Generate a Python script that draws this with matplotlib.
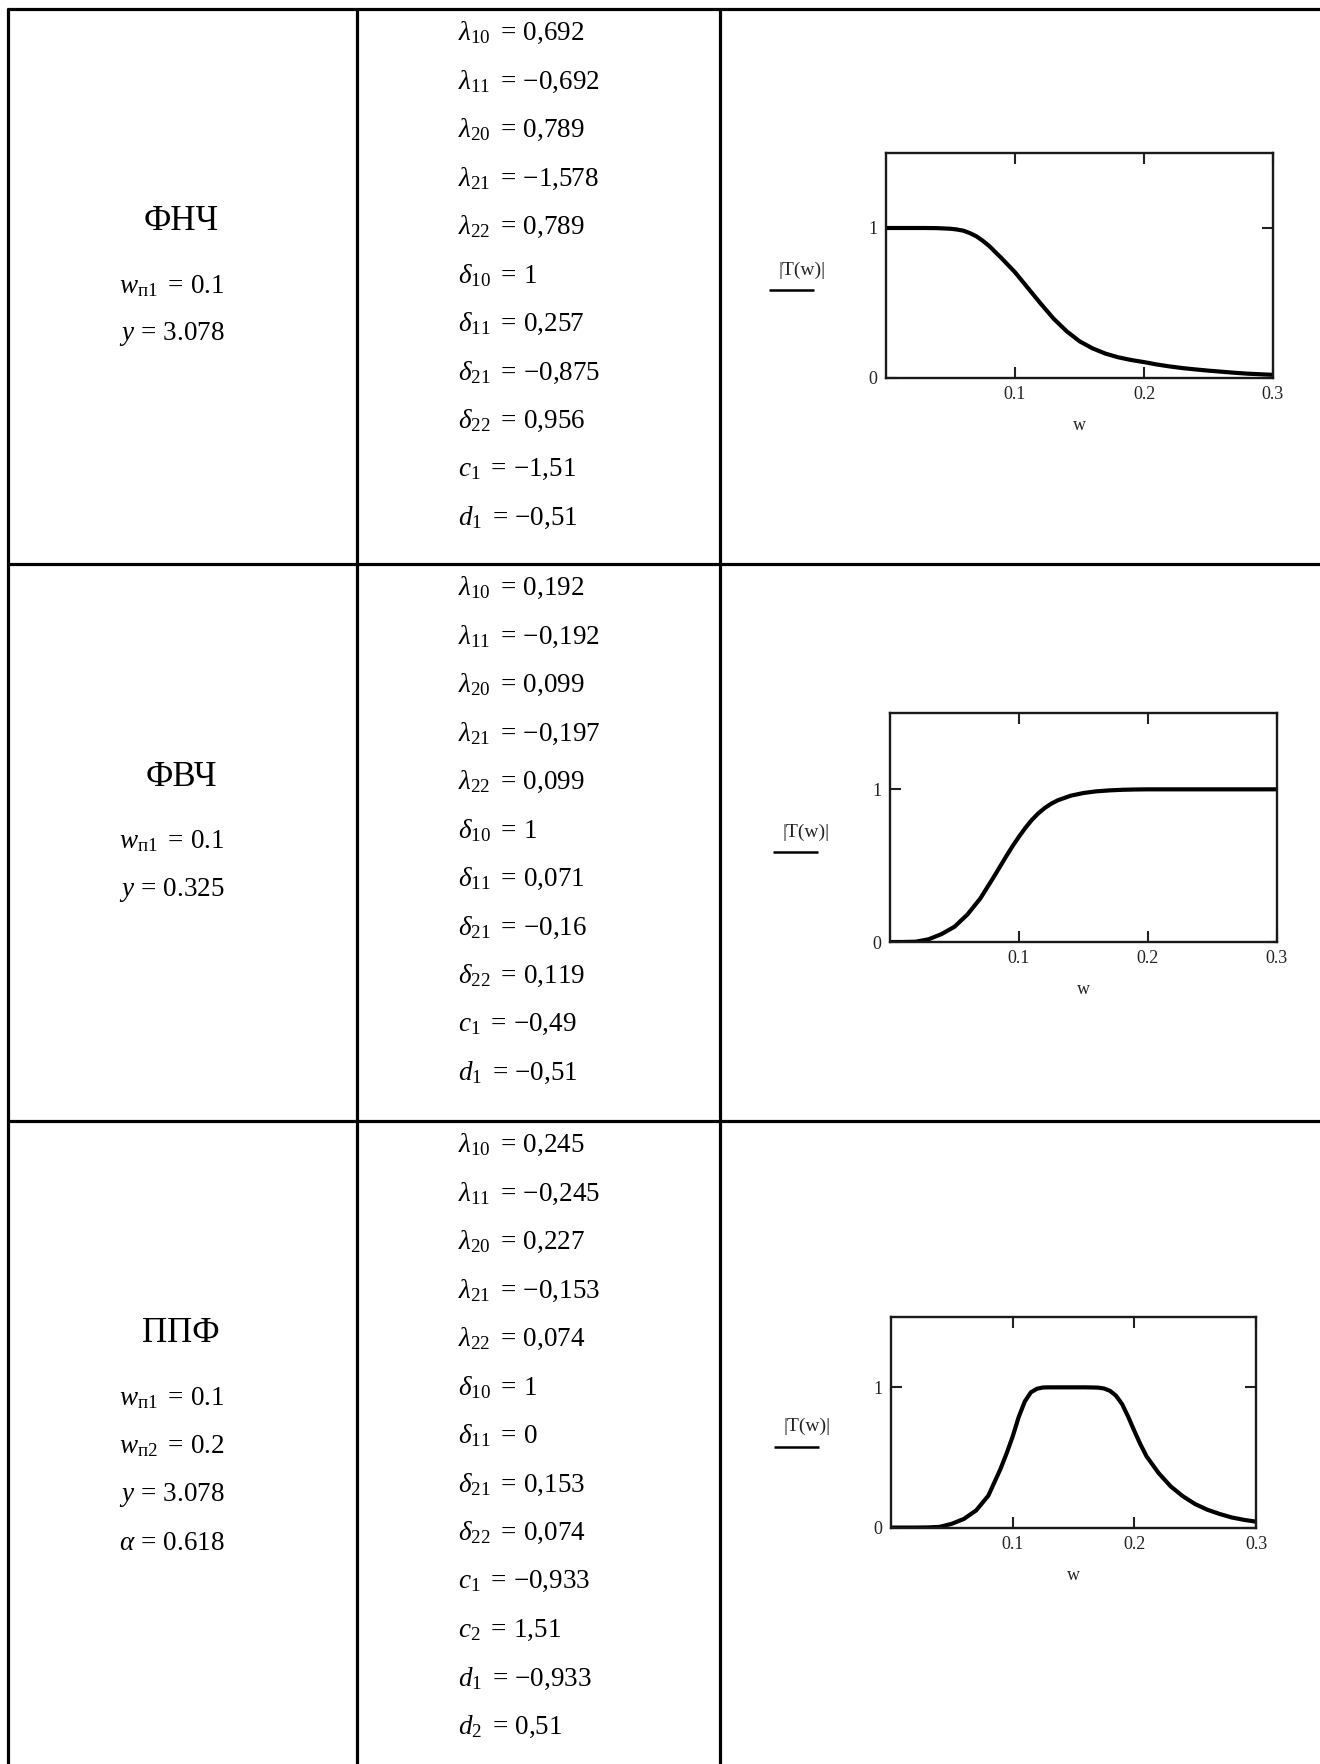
import matplotlib
matplotlib.use('Agg')
import matplotlib.pyplot as plt
from matplotlib.lines import Line2D

plt.rcParams['font.family'] = ['Liberation Serif', 'DejaVu Serif']
plt.rcParams['mathtext.fontset'] = 'custom'
plt.rcParams['mathtext.rm'] = 'Liberation Serif'
plt.rcParams['mathtext.it'] = 'Liberation Serif:italic'
plt.rcParams['mathtext.bf'] = 'Liberation Serif:bold'

W, H = 1320, 1764

# column 1: filter type and its parameters
filter_names = ['ФНЧ', 'ФВЧ', 'ППФ']
filter_params = [
    [r'$w_{\mathrm{п1}}\ =\, 0.1$', r'$y\,=\,3.078$'],
    [r'$w_{\mathrm{п1}}\ =\, 0.1$', r'$y\,=\,0.325$'],
    [r'$w_{\mathrm{п1}}\ =\, 0.1$', r'$w_{\mathrm{п2}}\ =\, 0.2$',
     r'$y\,=\,3.078$', r'$\alpha\,=\,0.618$'],
]

# column 2: coefficients
coeffs = [
    [r'$\lambda_{10}\ =\, 0{,}692$', r'$\lambda_{11}\ =\, {-}0{,}692$',
     r'$\lambda_{20}\ =\, 0{,}789$', r'$\lambda_{21}\ =\, {-}1{,}578$',
     r'$\lambda_{22}\ =\, 0{,}789$', r'$\delta_{10}\ =\, 1$',
     r'$\delta_{11}\ =\, 0{,}257$', r'$\delta_{21}\ =\, {-}0{,}875$',
     r'$\delta_{22}\ =\, 0{,}956$', r'$c_1\ =\, {-}1{,}51$', r'$d_1\ =\, {-}0{,}51$'],
    [r'$\lambda_{10}\ =\, 0{,}192$', r'$\lambda_{11}\ =\, {-}0{,}192$',
     r'$\lambda_{20}\ =\, 0{,}099$', r'$\lambda_{21}\ =\, {-}0{,}197$',
     r'$\lambda_{22}\ =\, 0{,}099$', r'$\delta_{10}\ =\, 1$',
     r'$\delta_{11}\ =\, 0{,}071$', r'$\delta_{21}\ =\, {-}0{,}16$',
     r'$\delta_{22}\ =\, 0{,}119$', r'$c_1\ =\, {-}0{,}49$', r'$d_1\ =\, {-}0{,}51$'],
    [r'$\lambda_{10}\ =\, 0{,}245$', r'$\lambda_{11}\ =\, {-}0{,}245$',
     r'$\lambda_{20}\ =\, 0{,}227$', r'$\lambda_{21}\ =\, {-}0{,}153$',
     r'$\lambda_{22}\ =\, 0{,}074$', r'$\delta_{10}\ =\, 1$',
     r'$\delta_{11}\ =\, 0$', r'$\delta_{21}\ =\, 0{,}153$',
     r'$\delta_{22}\ =\, 0{,}074$', r'$c_1\ =\, {-}0{,}933$', r'$c_2\ =\, 1{,}51$',
     r'$d_1\ =\, {-}0{,}933$', r'$d_2\ =\, 0{,}51$'],
]

# column 3: |T(w)|
lpf_w = [0, 0.01, 0.02, 0.03, 0.04, 0.05, 0.055, 0.06, 0.065, 0.07, 0.075,
         0.08, 0.09, 0.10, 0.11, 0.12, 0.13, 0.14, 0.15, 0.16, 0.17, 0.18,
         0.19, 0.20, 0.21, 0.22, 0.23, 0.24, 0.25, 0.26, 0.27, 0.28, 0.29, 0.30]
lpf_t = [1.0, 1.0, 1.0, 1.0, 0.999, 0.995, 0.99, 0.982, 0.966, 0.945, 0.915,
         0.88, 0.795, 0.705, 0.60, 0.495, 0.395, 0.312, 0.245, 0.198, 0.163, 0.138,
         0.12, 0.106, 0.09, 0.077, 0.066, 0.057, 0.049, 0.042, 0.035, 0.029, 0.025, 0.021]

hpf_w = [0, 0.01, 0.02, 0.03, 0.04, 0.05, 0.06, 0.07, 0.08, 0.09, 0.095,
         0.10, 0.105, 0.11, 0.115, 0.12, 0.125, 0.13, 0.14, 0.15, 0.16, 0.17,
         0.18, 0.19, 0.20, 0.22, 0.24, 0.26, 0.28, 0.30]
hpf_t = [0.0, 0.0, 0.002, 0.018, 0.052, 0.10, 0.18, 0.285, 0.42, 0.56, 0.628,
         0.69, 0.748, 0.80, 0.843, 0.878, 0.906, 0.928, 0.958, 0.976, 0.987, 0.993,
         0.997, 0.999, 1.0, 1.0, 1.0, 1.0, 1.0, 1.0]

bpf_w = [0, 0.01, 0.02, 0.03, 0.04, 0.05, 0.06, 0.07, 0.08, 0.09, 0.095,
         0.10, 0.105, 0.11, 0.115, 0.12, 0.125, 0.13, 0.14, 0.15, 0.16, 0.17,
         0.175, 0.18, 0.185, 0.19, 0.195, 0.20, 0.205, 0.21, 0.22, 0.23, 0.24,
         0.25, 0.26, 0.27, 0.28, 0.29, 0.30]
bpf_t = [0.003, 0.003, 0.003, 0.004, 0.008, 0.03, 0.065, 0.125, 0.23, 0.42, 0.53,
         0.65, 0.79, 0.90, 0.965, 0.99, 0.999, 1.0, 1.0, 1.0, 1.0, 0.998,
         0.992, 0.975, 0.94, 0.88, 0.79, 0.69, 0.595, 0.51, 0.39, 0.295, 0.225,
         0.17, 0.13, 0.10, 0.075, 0.058, 0.045]

curves = [(lpf_w, lpf_t), (hpf_w, hpf_t), (bpf_w, bpf_t)]

row_tops = [9, 564, 1121]
# axes boxes in pixels: left, right, top, bottom
boxes = [(886, 1273, 153, 378), (890, 1277, 713, 942), (891, 1256, 1317, 1528)]


def fx(x):
    return x / W


def fy(y):
    return 1 - y / H


fig = plt.figure(figsize=(W / 100, H / 100), dpi=100)


def hline(y, x0, x1, lw=2.3):
    fig.add_artist(Line2D([fx(x0), fx(x1)], [fy(y), fy(y)], color='black', lw=lw,
                          solid_capstyle='butt'))


def vline(x, y0, y1, lw=2.3):
    fig.add_artist(Line2D([fx(x), fx(x)], [fy(y0), fy(y1)], color='black', lw=lw,
                          solid_capstyle='butt'))


# table grid
for y in row_tops:
    hline(y, 7, W + 5)
for x in [8, 357, 720]:
    vline(x, 8, H + 5)

step = 48.5
for i in range(3):
    top = row_tops[i]
    fig.text(fx(181), fy(top + 213), filter_names[i], ha='center', va='center', fontsize=25)
    for j, s in enumerate(filter_params[i]):
        fig.text(fx(119), fy(top + 277 + j * step), s, ha='left', va='center', fontsize=19.5)
    for j, s in enumerate(coeffs[i]):
        fig.text(fx(458), fy(top + 24 + j * step), s, ha='left', va='center', fontsize=19.5)

    l, r, t, b = boxes[i]
    ax = fig.add_axes([fx(l), fy(b), (r - l) / W, (b - t) / H])
    w, tv = curves[i]
    ax.plot(w, tv, color='black', lw=3.0, solid_joinstyle='round')
    ax.set_xlim(0, 0.3)
    ax.set_ylim(0, 1.5)
    ax.set_xticks([0.1, 0.2, 0.3])
    ax.set_xticklabels(['0.1', '0.2', '0.3'])
    ax.set_yticks([0, 1])
    ax.set_yticklabels(['0', '1'])
    ax.tick_params(direction='in', length=8, width=1.5, top=True, right=True,
                   labelsize=13, pad=6, colors='#222222')
    for sp in ax.spines.values():
        sp.set_linewidth(1.7)
        sp.set_color('#1a1a1a')
    ax.set_xlabel('w', fontsize=13, labelpad=10, color='#222222')
    # vertical label, written horizontally and underlined
    ly = b - 0.48 * (b - t)
    fig.text(fx(l - 84), fy(ly), '|T(w)|', ha='center', va='center', fontsize=14,
             color='#222222')
    hline(ly + 20, l - 117, l - 72, lw=1.8)

fig.savefig('out.png', dpi=100)
